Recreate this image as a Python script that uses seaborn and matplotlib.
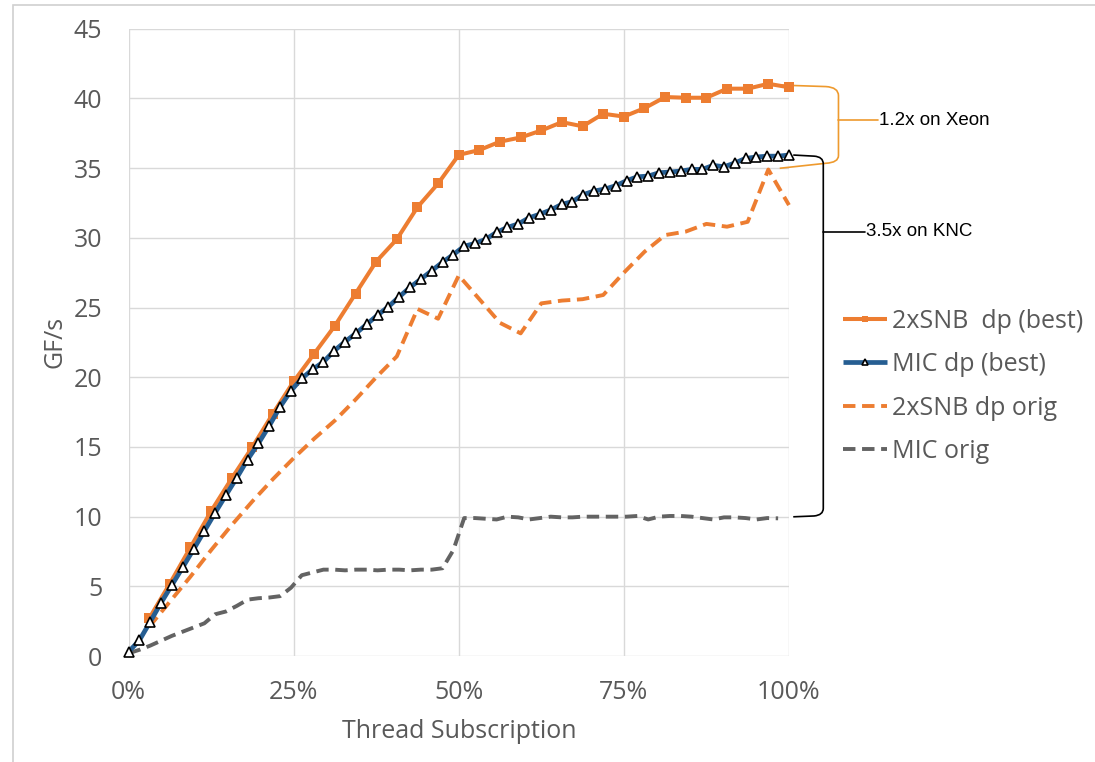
import numpy as np
import pandas as pd
import matplotlib
matplotlib.use("Agg")
import matplotlib.pyplot as plt
import seaborn as sns
from matplotlib.path import Path
from matplotlib.patches import PathPatch, Rectangle

# x positions are thread counts as a share of the machine
snb_threads = list(range(1, 33))          # 2xSNB: 32 hw threads
mic_steps = list(range(0, 62))            # MIC: 61 cores
mic_orig_steps = list(range(0, 61))

snb_best = [2.7, 5.2, 7.8, 10.4, 12.75, 15.0, 17.4, 19.7, 21.7, 23.7, 26.0, 28.3,
            29.9, 32.2, 33.9, 35.95, 36.3, 36.9, 37.2, 37.7, 38.3, 38.0, 38.9, 38.7,
            39.3, 40.1, 40.05, 40.05, 40.7, 40.7, 41.05, 40.8]

snb_orig = [2.1, 3.9, 5.7, 7.6, 9.4, 11.1, 12.7, 14.2, 15.6, 16.9, 18.4, 20.0,
            21.5, 24.9, 24.2, 27.3, 25.6, 23.9, 23.15, 25.3, 25.5, 25.6, 25.9, 27.5,
            29.0, 30.2, 30.45, 31.0, 30.8, 31.15, 34.9, 32.35]

mic_best = [0.3, 1.13, 2.46, 3.82, 5.09, 6.36, 7.65, 8.97, 10.28, 11.55, 12.79, 14.1,
            15.26, 16.52, 17.88, 19.03, 19.92, 20.56, 21.1, 21.9, 22.55, 23.15, 23.8,
            24.46, 25.06, 25.77, 26.45, 27.04, 27.64, 28.25, 28.8, 29.4, 29.6, 29.9,
            30.4, 30.75, 31.0, 31.44, 31.7, 32.0, 32.4, 32.6, 33.1, 33.36, 33.5, 33.74,
            34.1, 34.38, 34.43, 34.67, 34.72, 34.79, 34.91, 34.91, 35.2, 35.1, 35.37,
            35.7, 35.8, 35.86, 35.86, 35.94]

mic_orig = [0.2, 0.45, 0.75, 1.1, 1.45, 1.75, 2.05, 2.35, 3.0, 3.2, 3.6, 4.05, 4.15,
            4.2, 4.3, 4.9, 5.8, 6.0, 6.2, 6.2, 6.15, 6.2, 6.2, 6.15, 6.2, 6.2, 6.15,
            6.2, 6.2, 6.3, 7.6, 9.9, 9.9, 9.85, 9.8, 10.0, 9.95, 9.8, 9.9, 10.0, 9.95,
            9.95, 10.0, 10.0, 10.0, 10.0, 10.0, 10.05, 9.8, 10.0, 10.05, 10.05, 10.0,
            9.9, 9.8, 9.95, 9.95, 9.9, 9.8, 9.9, 9.88]

labels = ["2xSNB  dp (best)", "MIC dp (best)", "2xSNB dp orig", "MIC orig"]
x_ticks = [0, 25, 50, 75, 100]
x_ticklabels = ["0%", "25%", "50%", "75%", "100%"]
y_ticks = list(range(0, 50, 5))

ORANGE = "#ED7D31"
BLUE = "#265E92"
GREY = "#636363"
TEXT = "#595959"
GRID = "#D9D9D9"

snb_x = np.array(snb_threads) / 32 * 100
mic_x = np.array(mic_steps) / 61 * 100
mic_orig_x = np.array(mic_orig_steps) / 61 * 100

sns.set_theme(style="white")
plt.rcParams["font.family"] = ["Open Sans", "DejaVu Sans"]

fig, ax = plt.subplots(figsize=(10.95, 7.62), dpi=100)
fig.subplots_adjust(left=0.1174, right=0.7205, bottom=0.139, top=0.9623)

# dashed originals first, best runs on top
sns.lineplot(x=snb_x, y=snb_orig, ax=ax, color=ORANGE, lw=2.8, label=labels[2], zorder=3)
ax.lines[-1].set_dashes([3.2, 1.7])
sns.lineplot(x=mic_orig_x, y=mic_orig, ax=ax, color=GREY, lw=2.8, label=labels[3], zorder=3)
ax.lines[-1].set_dashes([3.2, 1.7])
sns.lineplot(x=snb_x, y=snb_best, ax=ax, color=ORANGE, lw=2.9, marker="s",
             markersize=7.5, markeredgewidth=0, label=labels[0], zorder=4)
sns.lineplot(x=mic_x, y=mic_best, ax=ax, color=BLUE, lw=3.4, marker="^",
             markersize=7, markerfacecolor="white", markeredgecolor="black",
             markeredgewidth=1.2, label=labels[1], zorder=5)
for ln in ax.lines:
    ln.set_clip_on(False)
    ln.set_solid_capstyle("butt")

ax.set_xlim(0, 100)
ax.set_ylim(0, 45)
ax.set_xticks(x_ticks)
ax.set_xticklabels(x_ticklabels)
ax.set_yticks(y_ticks)
ax.grid(True, color=GRID, lw=1)
ax.set_axisbelow(True)
for s in ax.spines.values():
    s.set_visible(False)
ax.tick_params(axis="both", length=0, labelsize=18, labelcolor=TEXT)
ax.tick_params(axis="y", pad=19)
ax.tick_params(axis="x", pad=17)
ax.set_xlabel("Thread Subscription", fontsize=18, color=TEXT, labelpad=10)
ax.set_ylabel("GF/s", fontsize=18, color=TEXT, labelpad=4)

# legend on the right
h, l = ax.get_legend_handles_labels()
hmap = dict(zip(l, h))
leg = ax.legend([hmap[t] for t in labels], labels, loc="center left",
                bbox_to_anchor=(0.770, 0.493), bbox_transform=fig.transFigure,
                frameon=False, fontsize=18, handlelength=1.75, handletextpad=0.2,
                labelspacing=0.74, borderpad=0, borderaxespad=0, markerscale=0.6)
for t in leg.get_texts():
    t.set_color(TEXT)

# brackets
BRK_OR = "#EE9A2E"
verts = [(98.6, 40.96), (105.6, 40.85), (107.5, 40.8), (107.5, 40.2),
         (107.5, 35.9), (107.5, 35.4), (105.6, 35.35), (98.6, 34.99)]
codes = [Path.MOVETO, Path.LINETO, Path.CURVE3, Path.CURVE3,
         Path.LINETO, Path.CURVE3, Path.CURVE3, Path.LINETO]
ax.add_patch(PathPatch(Path(verts, codes), fill=False, ec=BRK_OR, lw=1.2, clip_on=False))
ax.plot([107.5, 113.5], [38.45, 38.45], color=BRK_OR, lw=1.2, clip_on=False)
ax.text(113.7, 38.45, "1.2x on Xeon", fontsize=13.5, family=["Liberation Sans", "DejaVu Sans"],
        va="center", ha="left", color="black")

verts = [(100.65, 35.94), (103.8, 35.86), (105.2, 35.82), (105.2, 35.3),
         (105.2, 10.6), (105.2, 10.11), (103.8, 10.05), (100.65, 9.99)]
ax.add_patch(PathPatch(Path(verts, codes), fill=False, ec="black", lw=1.2, clip_on=False))
ax.plot([105.2, 111.5], [30.44, 30.44], color="black", lw=1.2, clip_on=False)
ax.text(111.7, 30.44, "3.5x on KNC", fontsize=13.5, family=["Liberation Sans", "DejaVu Sans"],
        va="center", ha="left", color="black")

# chart area border
fig.patches.append(Rectangle((13 / 1095, -0.01), 1.0, 1 - 5 / 762 + 0.01,
                             transform=fig.transFigure, fill=False, ec="#D0D0D0", lw=1.2))

fig.savefig("out.png", dpi=100)
